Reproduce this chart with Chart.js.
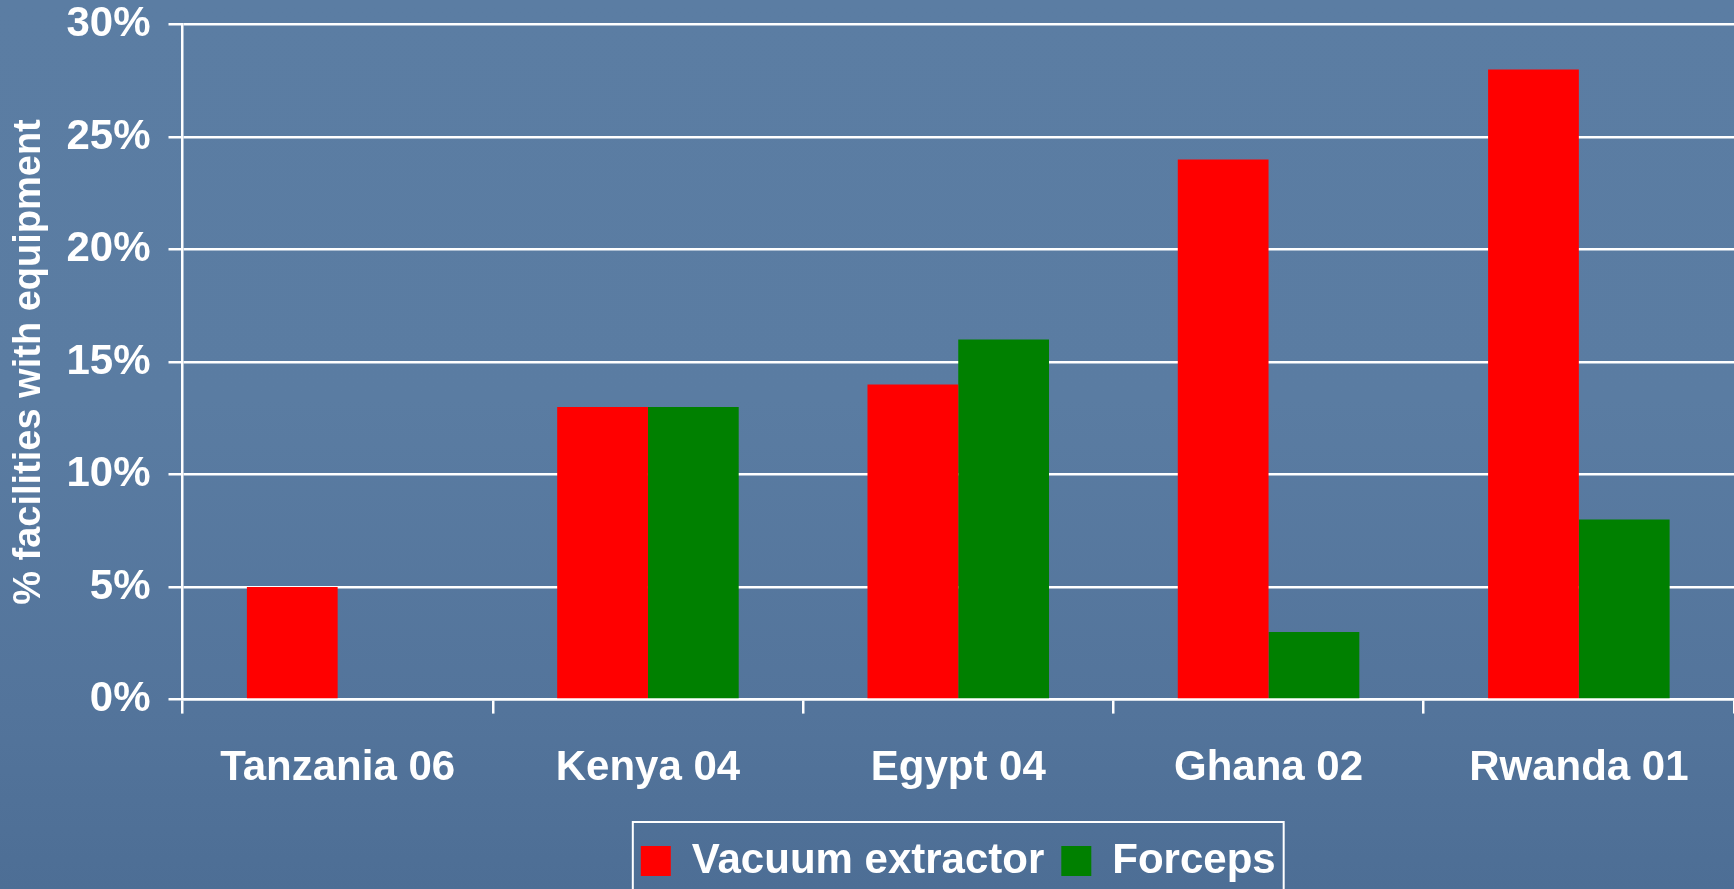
<!DOCTYPE html>
<html>
<head>
<meta charset="utf-8">
<title>Facilities with vacuum extractor and forceps</title>
<script src="https://cdn.jsdelivr.net/npm/chart.js@4.4.1/dist/chart.umd.min.js"></script>
<style>
  html, body { margin: 0; padding: 0; }
  body {
    width: 1734px;
    height: 889px;
    overflow: hidden;
    background: linear-gradient(180deg, #5b7da3 0%, #5a7ca2 45%, #53749b 80%, #4d6e95 100%);
  }
  canvas { display: block; }
</style>
</head>
<body>
<canvas id="myChart" width="1734" height="889"></canvas>
<script>
const countries = ['Tanzania 06', 'Kenya 04', 'Egypt 04', 'Ghana 02', 'Rwanda 01'];
const vacuumExtractor = [5, 13, 14, 24, 28];
const forceps = [0, 13, 16, 3, 8];
const yTicks = [0, 5, 10, 15, 20, 25, 30];

const FONT = '"Liberation Sans", Arial, Helvetica, sans-serif';

// white frame round the legend, it runs off the bottom of the slide
const legendFrame = {
    id: 'legendFrame',
    afterDraw(chart) {
        const boxes = chart.legend && chart.legend.legendHitBoxes;
        if (!boxes || !boxes.length) return;
        const left = Math.min(...boxes.map(b => b.left)) - 8;
        const right = Math.max(...boxes.map(b => b.left + b.width)) + 8;
        const top = Math.min(...boxes.map(b => b.top)) - 18;
        const ctx = chart.ctx;
        ctx.save();
        ctx.strokeStyle = '#ffffff';
        ctx.lineWidth = 2;
        ctx.strokeRect(left, top, right - left, chart.height + 10 - top);
        ctx.restore();
    },
};

const ctx = document.getElementById('myChart').getContext('2d');

const data = {
    labels: countries,
    datasets: [
        {
            label: 'Vacuum extractor',
            data: vacuumExtractor,
            backgroundColor: '#ff0000',
            borderWidth: 0,
        },
        {
            label: 'Forceps',
            data: forceps,
            backgroundColor: '#008000',
            borderWidth: 0,
        },
    ],
};

const config = {
    type: 'bar',
    data: data,
    plugins: [legendFrame],
    options: {
        responsive: false,
        animation: false,
        categoryPercentage: 0.585,
        barPercentage: 1.0,
        layout: {
            padding: { top: 0, right: 0, bottom: -3, left: 0 },
        },
        plugins: {
            tooltip: { enabled: false },
            legend: {
                position: 'bottom',
                fullSize: false,
                labels: {
                    color: '#ffffff',
                    boxWidth: 30,
                    boxHeight: 30,
                    padding: 17,
                    font: { family: FONT, size: 42, weight: 'bold' },
                },
            },
        },
        scales: {
            x: {
                offset: true,
                border: { display: true, color: '#ffffff', width: 2.5 },
                grid: {
                    offset: true,
                    drawOnChartArea: false,
                    drawTicks: true,
                    tickLength: 14,
                    color: '#ffffff',
                    lineWidth: 2.5,
                },
                ticks: {
                    color: '#ffffff',
                    padding: 30,
                    maxRotation: 0,
                    font: { family: FONT, size: 42, weight: 'bold' },
                },
                afterFit: (scale) => { scale.height = 123.4; },
            },
            y: {
                min: yTicks[0],
                max: yTicks[yTicks.length - 1],
                border: { display: true, color: '#ffffff', width: 2.5 },
                grid: {
                    color: '#ffffff',
                    lineWidth: 2.5,
                    tickLength: 14,
                },
                ticks: {
                    stepSize: yTicks[1] - yTicks[0],
                    color: '#ffffff',
                    padding: 18,
                    font: { family: FONT, size: 42, weight: 'bold' },
                    callback: (value) => value + '%',
                },
                title: {
                    display: true,
                    text: '% facilities with equipment',
                    color: '#ffffff',
                    padding: { top: 7, bottom: 10 },
                    font: { family: FONT, size: 38, weight: 'bold' },
                },
                afterFit: (scale) => {
                    scale.width = 182.5;
                    scale.paddingTop = 24.5;
                },
            },
        },
    },
};

new Chart(ctx, config);
</script>
</body>
</html>
